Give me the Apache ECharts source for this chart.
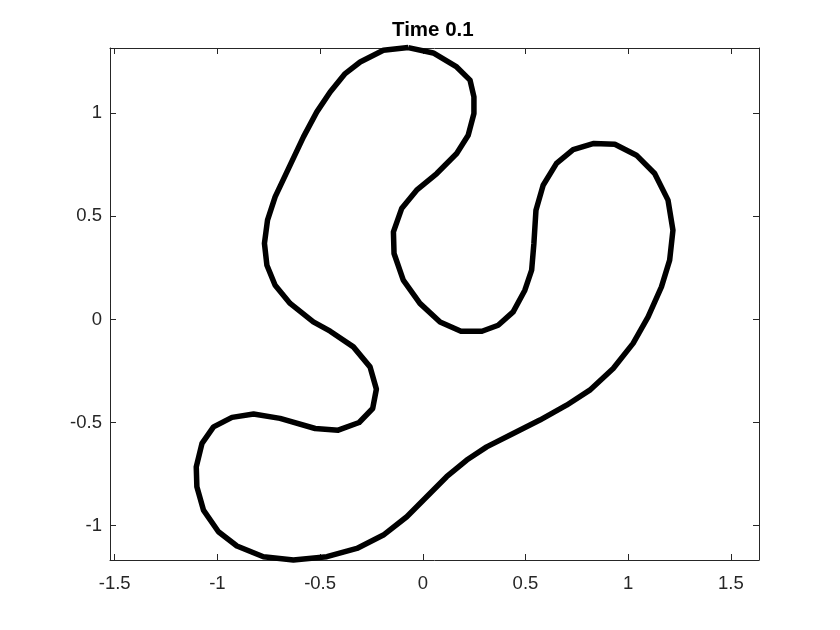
<!DOCTYPE html>
<html>
<head>
<meta charset="utf-8">
<script src="https://cdn.jsdelivr.net/npm/echarts@6/dist/echarts.min.js"></script>
<style>
  html, body { margin: 0; padding: 0; background: #fff; }
  #chart { width: 840px; height: 630px; }
</style>
</head>
<body>
<div id="chart"></div>
<script>
// curve vertices (closed loop)
const curveX = [
  -0.071, 0.051, 0.165, 0.230, 0.249, 0.249, 0.221, 0.165, 0.068, -0.030,
  -0.103, -0.143, -0.140, -0.095, -0.014, 0.084, 0.186, 0.288, 0.367, 0.440,
  0.497, 0.530, 0.541, 0.551, 0.586, 0.651, 0.732, 0.833, 0.935, 1.040,
  1.129, 1.194, 1.218, 1.202, 1.162, 1.097, 1.024, 0.927, 0.813, 0.700,
  0.570, 0.440, 0.311, 0.214, 0.116, 0.019, -0.078, -0.192, -0.321, -0.467,
  -0.630, -0.776, -0.905, -0.995, -1.068, -1.100, -1.103, -1.075, -1.019, -0.929,
  -0.824, -0.695, -0.524, -0.412, -0.310, -0.244, -0.226, -0.257, -0.338, -0.451,
  -0.533, -0.646, -0.719, -0.759, -0.771, -0.756, -0.719, -0.654, -0.581, -0.516,
  -0.451, -0.378, -0.305, -0.192
];
const curveY = [
  1.319, 1.293, 1.225, 1.161, 1.080, 0.999, 0.894, 0.805, 0.708, 0.627,
  0.538, 0.425, 0.320, 0.191, 0.078, -0.012, -0.057, -0.057, -0.028, 0.037,
  0.142, 0.239, 0.369, 0.530, 0.651, 0.757, 0.824, 0.854, 0.850, 0.797,
  0.708, 0.579, 0.433, 0.288, 0.158, 0.013, -0.116, -0.238, -0.343, -0.416,
  -0.488, -0.553, -0.618, -0.682, -0.763, -0.860, -0.957, -1.046, -1.111, -1.151,
  -1.167, -1.151, -1.099, -1.030, -0.925, -0.812, -0.715, -0.601, -0.521, -0.475,
  -0.459, -0.480, -0.529, -0.537, -0.500, -0.432, -0.338, -0.230, -0.133, -0.057,
  -0.012, 0.078, 0.166, 0.263, 0.369, 0.482, 0.595, 0.732, 0.886, 1.007,
  1.104, 1.193, 1.249, 1.306
];
const xTicks = [-1.5, -1, -0.5, 0, 0.5, 1, 1.5];
const yTicks = [-1, -0.5, 0, 0.5, 1];
const xRange = [-1.523, 1.637];
const yRange = [-1.167, 1.317];

const points = curveX.map((x, i) => [x, curveY[i]]);
points.push(points[0]);

const myChart = echarts.init(document.getElementById('chart'));
const axisColor = '#262626';
const font = 'Arial, "Liberation Sans", Helvetica, sans-serif';

function xAxisOpt(pos, showLabel) {
  return {
    type: 'value',
    position: pos,
    min: xRange[0],
    max: xRange[1],
    axisLine: { show: true, onZero: false, lineStyle: { color: axisColor, width: 1 } },
    axisTick: { show: true, inside: true, length: 6, customValues: xTicks, lineStyle: { color: axisColor } },
    axisLabel: {
      show: showLabel, customValues: xTicks, margin: 14,
      color: axisColor, fontSize: 18.5, fontFamily: font
    },
    splitLine: { show: false }
  };
}

function yAxisOpt(pos, showLabel) {
  return {
    type: 'value',
    position: pos,
    min: yRange[0],
    max: yRange[1],
    axisLine: { show: true, onZero: false, lineStyle: { color: axisColor, width: 1 } },
    axisTick: { show: true, inside: true, length: 6, customValues: yTicks, lineStyle: { color: axisColor } },
    axisLabel: {
      show: showLabel, customValues: yTicks, margin: 8,
      color: axisColor, fontSize: 18.5, fontFamily: font
    },
    splitLine: { show: false }
  };
}

const option = {
  animation: false,
  backgroundColor: '#fff',
  title: {
    text: 'Time 0.1',
    left: 392,
    top: 20,
    padding: 0,
    textStyle: { color: '#000', fontSize: 20.5, fontWeight: 'bold', fontFamily: font }
  },
  grid: { left: 110, right: 81, top: 48, bottom: 70 },
  xAxis: [xAxisOpt('bottom', true), xAxisOpt('top', false)],
  yAxis: [yAxisOpt('left', true), yAxisOpt('right', false)],
  series: [
    {
      type: 'line',
      data: points,
      showSymbol: false,
      symbol: 'none',
      clip: false,
      lineStyle: { color: '#000', width: 5.5, join: 'round' }
    }
  ]
};

myChart.setOption(option);
</script>
</body>
</html>
